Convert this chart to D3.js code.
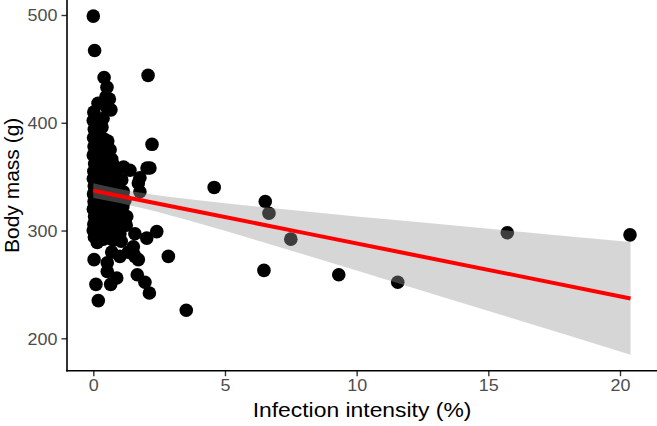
<!DOCTYPE html>
<html>
<head>
<meta charset="utf-8">
<script src="https://cdn.jsdelivr.net/npm/d3@7"></script>
<style>
  html, body { margin: 0; padding: 0; background: #fff; }
  svg { display: block; }
</style>
</head>
<body>
<svg id="chart" width="657" height="426"></svg>
<script>
// ---- data ----
const infection = [
  0.00, 0.05, 2.08, 2.23, 3.53, 4.59, 6.53, 6.67, 7.50, 6.48, 9.32, 11.56, 15.72, 20.38,
  2.41, 2.85, 2.13, 1.96, 1.67, 0.19, 0.10, 0.03, 0.53, 0.70, 1.01, 1.52, 1.71, 0.53, 0.89, 0.66,
  2.04, 1.77, 1.77, 1.14, 1.15, 0.76, 1.39, 1.71, 2.15, 1.58, 2.03, 1.27, 0.95, 1.52, 1.33, 1.58,
  0.41, 0.52, 1.01, 0.76,
  0.02, 0.00, 0.04, 0.01, 0.03, 0.00, 0.05, 0.02, 0.00, 0.04, 0.01, 0.03, 0.00, 0.05, 0.02, 0.00, 0.04,
  0.18, 0.15, 0.21, 0.17, 0.20, 0.16, 0.22, 0.18, 0.15, 0.21, 0.17, 0.19, 0.16, 0.22, 0.18, 0.20, 0.15,
  0.37, 0.33, 0.40, 0.31, 0.36, 0.39, 0.32, 0.38, 0.35, 0.30, 0.37, 0.34, 0.40, 0.32, 0.36, 0.38,
  0.48, 0.61, 0.51, 0.55, 0.49, 0.57, 0.52, 0.54, 0.50, 0.56, 0.53, 0.58, 0.49, 0.55, 0.51,
  0.67, 0.64, 0.70, 0.66, 0.72, 0.63, 0.69, 0.65, 0.71, 0.68, 0.62,
  0.88, 0.93, 0.86, 0.91, 0.95, 0.87, 0.90,
  1.08, 1.20, 1.12, 1.25, 1.06
];
const mass = [
  499, 467, 444, 380, 226, 340, 327, 316, 292, 263, 259, 252, 298, 296,
  299, 276, 242, 252, 259, 235, 250, 273, 270, 280, 276, 279, 273, 262, 256, 250,
  358, 349, 336, 336, 359, 361, 356, 344, 358, 297, 293, 313, 314, 285, 280, 276,
  442, 433, 297, 291,
  410, 402, 394, 386, 378, 370, 362, 355, 348, 341, 334, 327, 320, 313, 306, 300, 294,
  418, 400, 390, 381, 373, 365, 357, 350, 343, 336, 329, 322, 315, 308, 302, 296, 289,
  404, 396, 385, 376, 368, 361, 353, 346, 339, 331, 324, 317, 310, 304, 298, 292,
  424, 422, 414, 383, 371, 363, 355, 347, 340, 332, 325, 318, 311, 304, 297,
  412, 375, 366, 352, 344, 337, 329, 321, 307, 300, 293,
  350, 342, 333, 326, 320, 306, 299,
  347, 328, 322, 305, 290
];

// linear-model smooth (fit and 95% band) read at these x positions
const fitX  = [0, 1, 2, 4, 8, 12, 16, 20.4];
const fitY  = [337.0, 332.1, 327.2, 317.4, 297.8, 278.2, 258.6, 237.0];
const fitLo = [330.2, 325.6, 320.0, 306.7, 277.7, 247.9, 217.9, 184.7];
const fitHi = [343.8, 338.6, 334.4, 328.1, 317.9, 308.5, 299.3, 289.3];

const xTicks = [0, 5, 10, 15, 20];
const yTicks = [200, 300, 400, 500];
const xTitle = "Infection intensity (%)";
const yTitle = "Body mass (g)";

// ---- layout ----
const svg = d3.select("#chart");
const panelLeft = 67, panelRight = 657, panelTop = 0, panelBottom = 370.7;
const x = d3.scaleLinear().domain([0, 20]).range([93.3, 620]);
const y = d3.scaleLinear().domain([200, 500]).range([338.3, 15]);
const FONT = "'Liberation Sans', Arial, Helvetica, sans-serif";
const STRETCH = 1.1;

const pts = infection.map((d, i) => ({x: d, y: mass[i]}));
const smooth = fitX.map((d, i) => ({x: d, y: fitY[i], lo: fitLo[i], hi: fitHi[i]}));

// points
svg.append("g").selectAll("circle").data(pts).join("circle")
  .attr("cx", d => x(d.x)).attr("cy", d => y(d.y)).attr("r", 6.8)
  .attr("fill", "#000");

// confidence ribbon
svg.append("path").datum(smooth)
  .attr("d", d3.area().x(d => x(d.x)).y0(d => y(d.lo)).y1(d => y(d.hi)).curve(d3.curveMonotoneX))
  .attr("fill", "#999999").attr("fill-opacity", 0.4);

// fit line
svg.append("path").datum(smooth)
  .attr("d", d3.line().x(d => x(d.x)).y(d => y(d.y)))
  .attr("fill", "none").attr("stroke", "#ff0000").attr("stroke-width", 4);

// axes
const xAxis = svg.append("g").attr("transform", `translate(0,${panelBottom})`)
  .call(d3.axisBottom(x).tickValues(xTicks).tickSize(5.5).tickPadding(3).tickFormat(d3.format("d")));
xAxis.select(".domain").remove();
xAxis.selectAll(".tick line").attr("stroke", "#333").attr("stroke-width", 1.4);
xAxis.selectAll(".tick text")
  .attr("fill", "#4d4d4d").attr("font-family", FONT).attr("font-size", 16.3)
  .attr("transform", `scale(${STRETCH},1)`)
  .each(function() { const t = d3.select(this); t.attr("x", 0); });

const yAxis = svg.append("g").attr("transform", `translate(${panelLeft},0)`)
  .call(d3.axisLeft(y).tickValues(yTicks).tickSize(5.5).tickPadding(3).tickFormat(d3.format("d")));
yAxis.select(".domain").remove();
yAxis.selectAll(".tick line").attr("stroke", "#333").attr("stroke-width", 1.4);
yAxis.selectAll(".tick text")
  .attr("fill", "#4d4d4d").attr("font-family", FONT).attr("font-size", 16.3)
  .attr("x", -9.5 / STRETCH).attr("dy", "0.36em")
  .attr("transform", `scale(${STRETCH},1)`);

// axis lines
svg.append("line").attr("x1", panelLeft).attr("x2", panelLeft)
  .attr("y1", panelTop).attr("y2", panelBottom + 0.8)
  .attr("stroke", "#000").attr("stroke-width", 1.6);
svg.append("line").attr("x1", panelLeft - 0.8).attr("x2", panelRight)
  .attr("y1", panelBottom).attr("y2", panelBottom)
  .attr("stroke", "#000").attr("stroke-width", 1.6);

// titles
const cx = (panelLeft + panelRight) / 2;
svg.append("text").text(xTitle)
  .attr("transform", `translate(${cx},417) scale(${STRETCH},1)`)
  .attr("text-anchor", "middle")
  .attr("font-family", FONT).attr("font-size", 20.8).attr("fill", "#000");

svg.append("text").text(yTitle)
  .attr("transform", `translate(19,${(panelTop + panelBottom) / 2}) rotate(-90)`)
  .attr("text-anchor", "middle")
  .attr("font-family", FONT).attr("font-size", 21).attr("fill", "#000");
</script>
</body>
</html>
